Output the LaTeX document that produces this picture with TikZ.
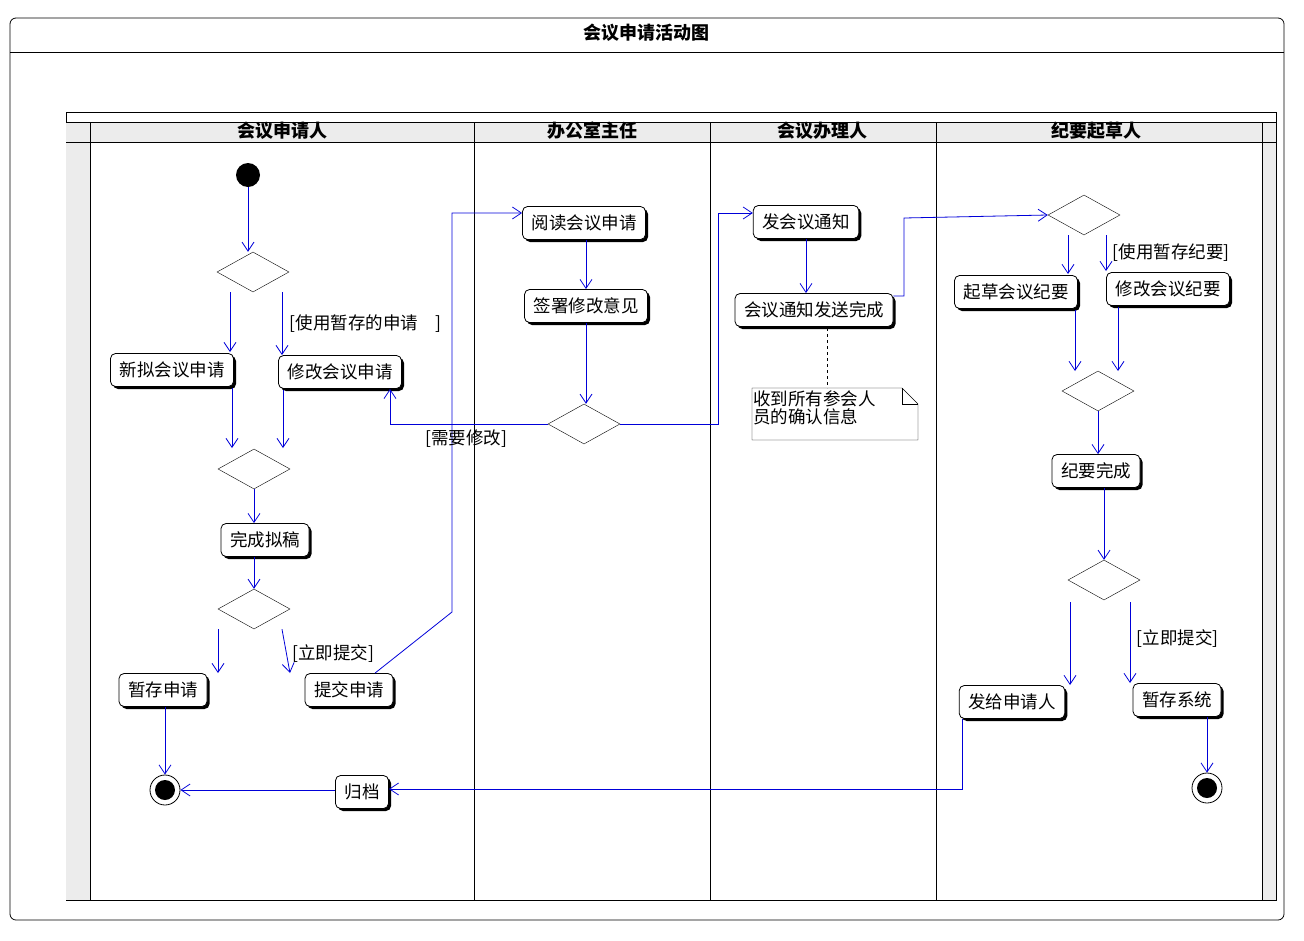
\documentclass[tikz,border=0pt]{standalone}
\usepackage{fontspec}
\newfontfamily\cjk{Noto Sans CJK SC}
\usetikzlibrary{arrows.meta,shapes.geometric,shadows,calc}
\tikzset{
  act/.style={draw, thick, rounded corners=5pt, fill=white, minimum height=33pt, inner xsep=9pt, font=\cjk\fontsize{17.5}{19}\selectfont, drop shadow={shadow xshift=2.5pt, shadow yshift=-2.5pt, fill=black, opacity=1}},
  dec/.style={diamond, draw, fill=white, minimum width=72pt, minimum height=40pt, inner sep=0pt, aspect=1.8},
  flow/.style={draw=blue!85!black, thick, -{Straight Barb[length=9pt,width=12pt]}},
  grd/.style={font=\cjk\fontsize{17.5}{18}\selectfont},
  lane/.style={font=\cjk\bfseries\fontsize{18}{20}\selectfont}
}
\begin{document}
\begin{tikzpicture}[x=1pt,y=-1pt]
\useasboundingbox (0,0) rectangle (1304,940);
% Frames
\draw[thick, rounded corners=6pt] (10,18) rectangle (1284,920);
\draw (10,52) -- (1284,52);
\node[lane] (title) at (646,33) {会议申请活动图};
\draw (66,112) rectangle (1276,900);
\fill[gray!15] (66,122) rectangle (1276,142);
\fill[gray!15] (66,142) rectangle (90,900);
\fill[gray!15] (1262,142) rectangle (1276,900);
\draw (66,122) -- (1276,122) (66,142) -- (1276,142);
\foreach \x in {90,474,710,936,1262} \draw (\x,122) -- (\x,900);
\node[lane] (lane1) at (282,131) {会议申请人};
\node[lane] (lane2) at (592,131) {办公室主任};
\node[lane] (lane3) at (822,131) {会议办理人};
\node[lane] (lane4) at (1096,131) {纪要起草人};

% Nodes
\node[circle, fill=black, minimum size=24pt, inner sep=0pt] (start) at (248,175) {};
\node[dec] (d1) at (253,272) {};
\node[dec] (d2) at (254,469) {};
\node[dec] (d3) at (254,609) {};
\node[dec] (d4) at (584,424) {};
\node[dec] (d5) at (1084,215) {};
\node[dec] (d6) at (1098,391) {};
\node[dec] (d7) at (1104,580) {};
\node[act] (newreq) at (172,370) {新拟会议申请};
\node[act] (modreq) at (340,372) {修改会议申请};
\node[act] (draft) at (265,540) {完成拟稿};
\node[act] (savereq) at (163,690) {暂存申请};
\node[act] (submit) at (349,690) {提交申请};
\node[act] (archive) at (362,792) {归档};
\node[act] (read) at (584,223) {阅读会议申请};
\node[act] (sign) at (586,306) {签署修改意见};
\node[act] (notify) at (806,222) {发会议通知};
\node[act] (notified) at (814,310) {会议通知发送完成};
\node[act] (mindraft) at (1016,292) {起草会议纪要};
\node[act] (minmod) at (1168,289) {修改会议纪要};
\node[act] (mindone) at (1096,471) {纪要完成};
\node[act] (sendback) at (1012,702) {发给申请人};
\node[act] (minsave) at (1177,700) {暂存系统};
\foreach \n/\p in {end1/{(165,790)}, end2/{(1207,788)}} {
  \node[circle, draw, thick, fill=white, minimum size=30pt, inner sep=0pt] (\n) at \p {};
  \fill (\n) circle (10pt);
}
% Note
\draw[fill=white] (752,388) -- (902,388) -- (918,404) -- (918,440) -- (752,440) -- cycle;
\draw (902,388) -- (902,404) -- (918,404);
\node[grd, align=left, inner sep=0pt, anchor=north west] (note) at (753,391) {收到所有参会人\\员的确认信息};
\draw[dashed] (827,328) -- (827,388);

% Flows
\draw[flow] (start) -- (start |- d1.north);
\draw[flow] ([xshift=-23pt]d1.south) -- (230,352);
\draw[flow] ([xshift=29pt]d1.south) -- (282,355) node[grd, midway, right=4pt] {[使用暂存的申请\quad]};
\draw[flow] (232,388) -- (232,448);
\draw[flow] (283,390) -- (283,448);
\draw[flow] (d2.south) -- (draft.north -| d2);
\draw[flow] (draft.south -| d3) -- (d3.north);
\draw[flow] ([xshift=-36pt]d3.south) -- (218,673);
\draw[flow] ([xshift=28pt]d3.south) -- (290,673) node[grd, pos=0.55, right=2pt] {[立即提交]};
\draw[flow] (savereq.south -| end1) -- (end1);
\draw[flow] ([xshift=26pt]submit.north) -- (452,612) -- (452,213) -- (read.west |- 0,213);
\draw[flow] (read.south -| sign) -- (sign.north);
\draw[flow] (sign.south) -- (d4.north -| sign);
\draw[flow] (d4.west) -- (390,424) -- (modreq.south -| 390,0);
\node[grd] (revlbl) at (466,439) {[需要修改]};
\draw[flow] (d4.east) -- (718,424) -- (718,213) -- (notify.west |- 0,213);
\draw[flow] (notify) -- (notify.south |- notified.north);
\draw[flow] (notified.east |- 0,296) -- (904,296) -- (904,218) -- (d5.west);
\draw[flow] ([xshift=-16pt]d5.south) -- (1068,274);
\draw[flow] ([xshift=22pt]d5.south) -- (1106,271) node[grd, midway, right=3pt] {[使用暂存纪要]};
\draw[flow] (1075,310) -- (1075,371);
\draw[flow] (1118,307) -- (1118,371);
\draw[flow] (d6.south) -- (mindone.north -| d6);
\draw[flow] (mindone.south -| d7) -- (d7.north);
\draw[flow] ([xshift=-34pt]d7.south) ++(0,2) -- (1070,685);
\draw[flow] ([xshift=26pt]d7.south) ++(0,2) -- (1130,683) node[grd, pos=0.45, right=3pt] {[立即提交]};
\draw[flow] (minsave.south -| end2) -- (end2);
\draw[flow] (962,719) -- (962,789) -- (archive.east |- 0,789);
\draw[flow] (archive.west |- end1) -- (end1);
\end{tikzpicture}
\end{document}
